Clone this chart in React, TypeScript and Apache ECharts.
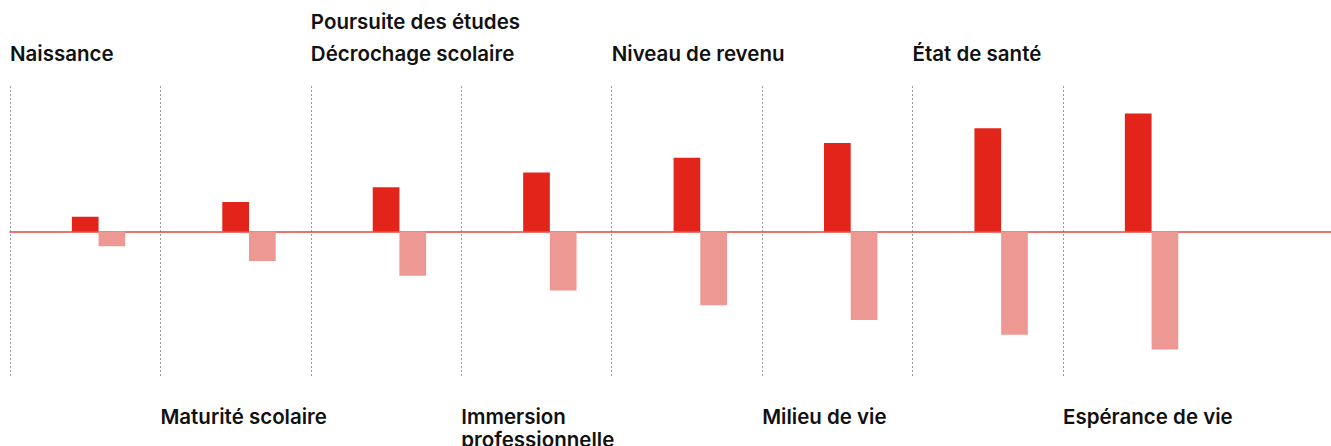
import React, { useEffect, useRef } from "react";
import * as echarts from "echarts";

const categories = [
  "Naissance",
  "Maturité scolaire",
  "Poursuite des études\nDécrochage scolaire",
  "Immersion\nprofessionnelle",
  "Niveau de revenu",
  "Milieu de vie",
  "État de santé",
  "Espérance de vie",
];
const redValues = [1, 2, 3, 4, 5, 6, 7, 8];
const pinkValues = [-1, -2, -3, -4, -5, -6, -7, -8];
const spacerValues = ["-", "-", "-", "-", "-", "-", "-", "-"];

const RED = "#e3241b";
const PINK = "#ee9894";
const FONT = "Inter";

export default function App() {
  const ref = useRef<HTMLDivElement>(null);
  useEffect(() => {
    if (!ref.current) return;
    const chart = echarts.init(ref.current, null, { renderer: "svg" });
    const band = 150.43;
    const top = 86;
    const bottom = 446 - 377;
    const yRange = 9.86;
    const labelStyle = {
      fontFamily: FONT,
      fontWeight: 600,
      fontSize: 20.5,
      color: "#111",
      align: "left" as const,
    };
    const gridBase = { top, bottom, containLabel: false, outerBoundsMode: "none" };
    chart.setOption({
      animation: false,
      grid: [
        { ...gridBase, left: 10, width: band * 7 },
        { ...gridBase, left: 10, width: band * 8 },
        { ...gridBase, left: 10, right: 0 },
      ],
      xAxis: [
        {
          gridIndex: 0,
          type: "category",
          position: "top",
          boundaryGap: false,
          data: categories,
          axisLine: { show: false },
          axisTick: { show: false },
          splitLine: { show: false },
          axisLabel: {
            ...labelStyle,
            interval: 0,
            margin: 17,
            lineHeight: 32,
            verticalAlign: "bottom",
            formatter: (v: string, i: number) => (i % 2 === 0 ? v : ""),
          },
        },
        {
          gridIndex: 0,
          type: "category",
          position: "bottom",
          boundaryGap: false,
          data: categories,
          axisLine: { show: false },
          axisTick: { show: false },
          splitLine: {
            show: true,
            interval: 0,
            lineStyle: { color: "#9a9a9a", width: 1, type: [2, 2] },
          },
          axisLabel: {
            ...labelStyle,
            interval: 0,
            margin: 28,
            lineHeight: 23,
            verticalAlign: "top",
            formatter: (v: string, i: number) => (i % 2 === 1 ? v : ""),
          },
        },
        {
          gridIndex: 1,
          type: "category",
          data: categories,
          show: false,
        },
        {
          gridIndex: 2,
          type: "value",
          min: 0,
          max: 1,
          axisLine: {
            show: true,
            onZero: true,
            lineStyle: { color: "#e8453d", width: 1.5 },
          },
          axisTick: { show: false },
          axisLabel: { show: false },
          splitLine: { show: false },
        },
      ],
      yAxis: [
        { gridIndex: 0, type: "value", show: false, min: -yRange, max: yRange },
        { gridIndex: 1, type: "value", show: false, min: -yRange, max: yRange },
        {
          gridIndex: 2,
          type: "value",
          min: -yRange,
          max: yRange,
          axisLine: { show: false },
          axisTick: { show: false },
          axisLabel: { show: false },
          splitLine: { show: false },
        },
      ],
      series: [
        {
          name: "",
          type: "bar",
          xAxisIndex: 2,
          yAxisIndex: 1,
          data: spacerValues,
          barWidth: 26.7,
          barGap: "0%",
          itemStyle: { color: "transparent" },
          silent: true,
        },
        {
          name: "Positif",
          type: "bar",
          xAxisIndex: 2,
          yAxisIndex: 1,
          data: redValues,
          barWidth: 26.7,
          barGap: "0%",
          itemStyle: { color: RED },
        },
        {
          name: "Négatif",
          type: "bar",
          xAxisIndex: 2,
          yAxisIndex: 1,
          data: pinkValues,
          barWidth: 26.7,
          barGap: "0%",
          itemStyle: { color: PINK },
        },
      ],
    });
    return () => chart.dispose();
  }, []);
  return (
    <div
      ref={ref}
      style={{ position: "fixed", left: 0, top: 0, width: 1331, height: 446, background: "#fff" }}
    />
  );
}
